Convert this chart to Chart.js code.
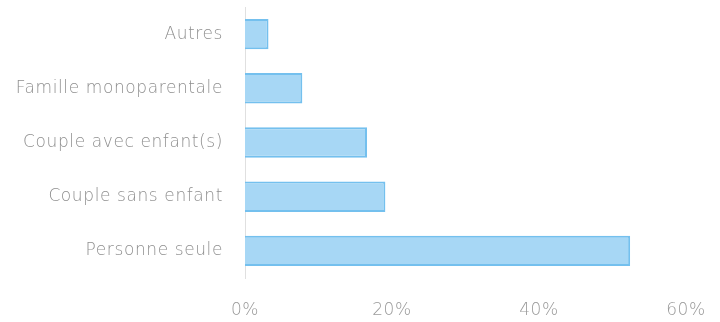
<!DOCTYPE html>
<html lang="fr">
<head>
  <meta charset="UTF-8">
  <title>Type de ménage</title>
  <script src="https://cdn.jsdelivr.net/npm/chart.js"></script>
  <style>
    body {
      margin: 0;
      background: #fff;
    }
    #wrap {
      width: 720px;
      height: 322px;
    }
  </style>
</head>
<body>
  <div id="wrap"><canvas id="menages"></canvas></div>

  <script>
    const categories = ['Autres', 'Famille monoparentale', 'Couple avec enfant(s)', 'Couple sans enfant', 'Personne seule'];
    const shares = [3.2, 7.8, 16.6, 19.1, 52.4];
    const xTicks = [0, 20, 40, 60];

    // a touch of letter spacing so the labels come out as wide as the house font
    const spacing = {
      id: 'spacing',
      beforeInit: chart => { chart.ctx.letterSpacing = '0.6px'; },
      beforeDraw: chart => { chart.ctx.letterSpacing = '0.6px'; },
    };

    const tickFont = { family: 'DejaVu Sans', size: 17, weight: 200 };

    const ctx = document.getElementById('menages').getContext('2d');
    new Chart(ctx, {
      type: 'bar',
      data: {
        labels: categories,
        datasets: [{
          data: shares,
          backgroundColor: '#a7d7f5',
          borderColor: '#74c0ee',
          borderWidth: 2,
          barPercentage: 0.56,
          categoryPercentage: 1,
        }],
      },
      options: {
        indexAxis: 'y',
        responsive: true,
        maintainAspectRatio: false,
        animation: false,
        layout: {
          padding: { top: 7, right: 34, bottom: 0, left: 0 },
        },
        plugins: {
          legend: { display: false },
          tooltip: { enabled: false },
        },
        scales: {
          x: {
            min: 0,
            max: 60,
            grid: { display: false, drawTicks: false },
            border: { display: false },
            afterBuildTicks: scale => {
              scale.ticks = xTicks.map(v => ({ value: v }));
            },
            afterFit: scale => {
              scale.height = 44;
              scale.paddingLeft = 0;
              scale.paddingRight = 0;
            },
            ticks: {
              padding: 22,
              color: '#9a9a9a',
              font: tickFont,
              callback: v => v + '%',
            },
          },
          y: {
            grid: { display: false, drawTicks: false },
            border: { display: true, color: '#e0e0e0', width: 1 },
            afterFit: scale => {
              scale.width = 245;
              scale.paddingTop = 0;
              scale.paddingBottom = 0;
            },
            ticks: {
              padding: 22,
              color: '#8f8f8f',
              font: tickFont,
            },
          },
        },
      },
      plugins: [spacing],
    });
  </script>
</body>
</html>
